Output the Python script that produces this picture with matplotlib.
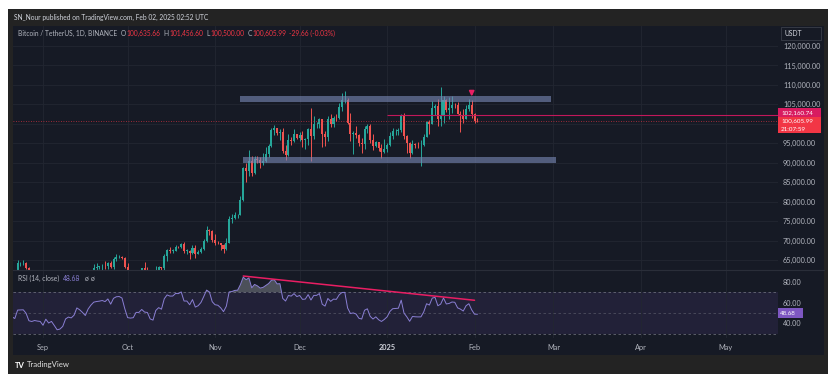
import numpy as np
import pandas as pd
import matplotlib
matplotlib.use('Agg')
import matplotlib.pyplot as plt
import matplotlib.dates as mdates
from matplotlib.patches import Rectangle
from matplotlib.lines import Line2D

plt.rcParams['font.family'] = ['Lato', 'DejaVu Sans']

# ---------------- data ----------------
start_date = '2024-08-01'
first_open = 64620
last_open = 100635.66

closes = [
    # Aug 2024
    65350, 61500, 60700, 58160, 54020, 56040, 55130, 61710, 60880, 60940, 58710, 59350, 60610, 58740, 57560, 58870,
    59490, 58430, 59490, 59010, 61160, 60380, 64100, 64170, 64220, 62830, 59420, 59030, 59370, 59120, 58970,
    # Sep
    57300, 59130, 57480, 57970, 56160, 53960, 54160, 54870, 57050, 57640, 57340, 58130, 60570, 60000, 59180,
    58210, 60310, 61760, 62950, 63200, 63350, 63580, 63340, 64260, 63150, 65180, 65790, 65890, 65600, 63300,
    # Oct
    60800, 60650, 60750, 62080, 62070, 62820, 62220, 62130, 60580, 60270, 62450, 63190, 62850, 66080, 67620, 67380,
    67400, 68380, 68360, 69000, 67370, 67370, 66680, 68160, 66640, 67010, 67930, 69910, 72720, 72340, 70220,
    # Nov
    69480, 69360, 68740, 67810, 69380, 75640, 75900, 76540, 76680, 80400, 88700, 87960, 90520, 87420, 91060,
    90580, 89850, 90460, 92310, 94290, 98350, 98890, 97670, 97900, 93010, 91970, 95860, 95640, 97460, 96410,
    # Dec
    97190, 95840, 96000, 98770, 96950, 99870, 99920, 101110, 97390, 96660, 101170, 100040, 101460, 101370, 104300, 106060,
    106140, 100200, 97460, 97760, 97220, 95100, 94690, 98680, 99430, 95790, 94300, 95280, 93720, 92790, 93580,
    # Jan 2025
    94590, 96890, 98140, 98240, 98350, 102240, 96950, 95040, 92550, 94730, 94560, 94500, 94520, 96530, 100500, 99990,
    104080, 104560, 101330, 102260, 106150, 103650, 103960, 104820, 104710, 102590, 102080, 101330, 103730, 104730, 102430,
    # Feb
    100635.65, 100605.99,
]
highs = [
    65600, 65600, 62200, 61100, 58300, 57000, 57700, 62700, 61750, 61470, 61860, 60700, 61580, 61800, 59850, 59800,
    59690, 60260, 59600, 61400, 61800, 61400, 64950, 64520, 65000, 64480, 63200, 60250, 61180, 59840, 59460,
    59060, 59400, 59820, 58500, 58320, 56990, 54850, 55300, 58100, 58040, 57980, 58600, 60670, 60650, 60390,
    59200, 61340, 61790, 63870, 64130, 63570, 64000, 64800, 64500, 64820, 65840, 66500, 66260, 66080, 65650,
    64130, 62400, 61480, 62480, 62370, 62980, 64480, 63200, 62540, 61320, 63420, 63480, 63300, 66500, 67950, 68420,
    67900, 68970, 68700, 69400, 69520, 67830, 67470, 68850, 68770, 67450, 68250, 70270, 73620, 72960, 72700,
    71600, 69950, 69400, 69000, 70580, 76400, 76950, 77250, 76950, 81500, 89000, 89950, 93260, 91800, 91850,
    91780, 91450, 92600, 94000, 94900, 99000, 99590, 98900, 98750, 98870, 94650, 97380, 96650, 98700, 97500,
    97900, 98150, 96300, 99000, 104090, 101900, 100550, 101400, 101200, 98280, 101900, 102540, 102000, 102650, 105250, 107800,
    108350, 106520, 102800, 98150, 99540, 97360, 96400, 99400, 99960, 99880, 97300, 95520, 95400, 94900, 96150,
    94960, 97800, 98980, 98700, 98800, 102500, 102720, 97250, 95350, 95840, 95000, 95400, 95900, 97370, 100680, 100870,
    105860, 104990, 106300, 109590, 107240, 106330, 106850, 107100, 105280, 105500, 103200, 103750, 104800, 106460, 106000,
    102800, 101456.60,
]
lows = [
    62300, 61200, 59850, 57200, 49000, 53900, 54600, 54750, 59600, 60260, 58300, 57650, 58480, 58430, 56080, 57100,
    58780, 58400, 57820, 58600, 58800, 59800, 60350, 63580, 63800, 62800, 58100, 57850, 58800, 57700, 58750,
    57200, 57120, 57400, 55600, 55650, 52550, 53740, 53650, 54600, 56400, 55550, 57330, 57630, 59450, 58700,
    57500, 57620, 59180, 61600, 62360, 62750, 62350, 62700, 62700, 62950, 62670, 64800, 65420, 65250, 62850,
    60170, 59980, 59830, 60460, 61650, 61800, 62130, 61830, 60300, 58900, 60050, 62450, 62050, 62420, 64800, 66750,
    66700, 67200, 68000, 68100, 66800, 66600, 65260, 66480, 65520, 66450, 66850, 67550, 69730, 71430, 69680,
    68800, 69020, 67460, 66800, 67460, 69330, 74500, 75600, 75800, 76500, 80200, 85100, 86600, 86650, 87100,
    90050, 88720, 89380, 90100, 91500, 94100, 97150, 97200, 95730, 92600, 90800, 91800, 94650, 95400, 96000,
    95700, 94150, 93580, 94660, 90500, 95980, 98950, 98900, 94150, 94250, 95700, 99300, 99200, 100610, 101220, 103300,
    105320, 100000, 95700, 92180, 96400, 94200, 92400, 93400, 97600, 95150, 93250, 94000, 93050, 91300, 92520,
    92750, 94200, 96000, 97230, 97250, 97900, 96100, 92500, 91200, 92200, 93850, 93700, 89260, 94320, 96500, 97280,
    99940, 102280, 99550, 99550, 100120, 103110, 101200, 102750, 104110, 102500, 97780, 100270, 101250, 103300, 101560,
    100160, 100500.00,
]

month_ticks = ['2024-09-01', '2024-10-01', '2024-11-01', '2024-12-01', '2025-01-01',
               '2025-02-01', '2025-03-01', '2025-04-01', '2025-05-01']
month_labels = ['Sep', 'Oct', 'Nov', 'Dec', '2025', 'Feb', 'Mar', 'Apr', 'May']
price_ticks = [65000, 70000, 75000, 80000, 85000, 90000, 95000, 100000, 105000, 110000, 115000, 120000]
hidden_price_labels = [100000]   # covered by the price tags in the reference
rsi_ticks = [40, 60, 80]
rsi_levels = [30, 50, 70]

zone_start = ['2024-11-10', '2024-11-11']
zone_end = ['2025-02-28', '2025-03-02']
zone_low = [105600, 90000]
zone_high = [107150, 91500]

alert_start = '2025-01-01'
alert_price = 102160.74
bar_countdown = '21:07:59'
rsi_last_label = '48.68'

rsi_trend_dates = ['2024-11-11', '2025-02-01']
rsi_trend_values = [85.6, 62.2]

arrow_date = '2025-01-31'
arrow_tip = 106300
arrow_tail = 109000

# ---------------- derived ----------------
opens = [first_open] + closes[:-1]
opens[-1] = last_open
o = np.array(opens, float)
c = np.array(closes, float)
h = np.array(highs, float)
l = np.array(lows, float)
dates = pd.date_range(start_date, periods=len(closes), freq='D')
x = mdates.date2num(dates.to_pydatetime())


def rsi_calc(cl, n=14):
    d = np.diff(cl)
    up = np.clip(d, 0, None)
    dn = np.clip(-d, 0, None)
    au = np.full(len(d), np.nan)
    ad = np.full(len(d), np.nan)
    au[n - 1] = up[:n].mean()
    ad[n - 1] = dn[:n].mean()
    for i in range(n, len(d)):
        au[i] = (au[i - 1] * (n - 1) + up[i]) / n
        ad[i] = (ad[i - 1] * (n - 1) + dn[i]) / n
    r = 100 - 100 / (1 + au / ad)
    out = np.full(len(cl), np.nan)
    out[1:] = r
    return out


rsi = rsi_calc(c)

# ---------------- figure ----------------
W, H = 838, 380
fig = plt.figure(figsize=(W / 100, H / 100), dpi=100, facecolor='white')


def fx(p):
    return p / W


def fy(p):
    return 1 - p / H


BG = '#161a25'
FRAME = '#232323'
TXT = '#b2b5be'
GRID = '#222631'
UP = '#26a69a'
DOWN = '#ef5350'
RED = '#f23645'
PINK = '#e91e63'
PURPLE = '#7e57c2'
RSI_COL = '#8a7fd4'
FS = 4.9
TAG_FS = 4.5

fig.patches.append(Rectangle((fx(8), fy(374)), 820 / W, 365 / H, transform=fig.transFigure,
                             facecolor=FRAME, edgecolor='none', zorder=-10))
fig.patches.append(Rectangle((fx(13), fy(355)), 811 / W, 329 / H, transform=fig.transFigure,
                             facecolor=BG, edgecolor='none', zorder=-9))

ax = fig.add_axes([fx(13), fy(270), 765 / W, 244 / H])
axr = fig.add_axes([fx(13), fy(338), 765 / W, 68 / H], sharex=ax)
for a in (ax, axr):
    a.set_facecolor(BG)
    for s in a.spines.values():
        s.set_visible(False)

sep1 = mdates.date2num(pd.Timestamp('2024-09-01'))
ax.set_xlim(sep1 - 10.64, sep1 + 260.6)
ax.set_ylim(62429, 125141)
axr.set_ylim(25.8, 91.4)

tick_nums = mdates.date2num(pd.to_datetime(month_ticks).to_pydatetime())

# candles
cols = np.where(c >= o, UP, DOWN)
ax.vlines(x, l, h, colors=cols, lw=0.7, zorder=2)
body_lo = np.minimum(o, c)
body_h = np.maximum(np.abs(c - o), 80)
ax.bar(x, body_h, bottom=body_lo, width=0.72, color=cols, linewidth=0, zorder=2)

# zones
for s, e, lo, hi in zip(zone_start, zone_end, zone_low, zone_high):
    xs = mdates.date2num(pd.Timestamp(s))
    xe = mdates.date2num(pd.Timestamp(e))
    ax.add_patch(Rectangle((xs, lo), xe - xs, hi - lo, facecolor='#7887b4', alpha=0.62,
                           edgecolor='none', zorder=3))

# alert ray and last price line
xa = mdates.date2num(pd.Timestamp(alert_start))
ax.hlines(alert_price, xa, ax.get_xlim()[1], color='#c2185b', lw=0.8, zorder=4)
ax.axhline(c[-1], color=RED, lw=0.6, ls=(0, (1, 2)), alpha=0.8, zorder=4)

# arrow marker
xar = mdates.date2num(pd.Timestamp(arrow_date))
ax.annotate('', xy=(xar, arrow_tip), xytext=(xar, arrow_tail),
            arrowprops=dict(arrowstyle='-|>', color=PINK, lw=1.3, mutation_scale=7), zorder=5)

# axes ticks
ax.yaxis.tick_right()
ax.set_yticks(price_ticks)
ax.set_yticklabels(['' if v in hidden_price_labels else f'{v:,.2f}' for v in price_ticks])
ax.tick_params(axis='y', length=0, pad=3.6, labelsize=5.2, labelcolor=TXT)
ax.tick_params(axis='x', length=0, labelbottom=False)
ax.grid(True, color=GRID, lw=0.6, zorder=0)

axr.set_xticks(tick_nums)
axr.set_xticklabels(month_labels)
axr.tick_params(axis='x', length=0, pad=4, labelsize=5.3, labelcolor=TXT)
for lb in axr.get_xticklabels():
    if lb.get_text() == '2025':
        lb.set_fontweight('bold')
        lb.set_color('#d1d4dc')
axr.yaxis.tick_right()
axr.set_yticks(rsi_ticks)
axr.set_yticklabels([f'{v:.2f}' for v in rsi_ticks])
axr.tick_params(axis='y', length=0, pad=3.6, labelsize=5.2, labelcolor=TXT)
axr.grid(True, axis='x', color=GRID, lw=0.6, zorder=0)

# RSI pane
axr.axhspan(rsi_levels[0], rsi_levels[2], color=PURPLE, alpha=0.12, lw=0, zorder=1)
for lv in rsi_levels:
    axr.axhline(lv, color='#787b86', lw=0.6, ls=(0, (3, 3)), alpha=0.8 if lv != 50 else 0.5, zorder=2)
axr.fill_between(x, 70, rsi, where=rsi >= 70, interpolate=True, color='#b2b5be', alpha=0.35, lw=0, zorder=2)
axr.plot(x, rsi, color=RSI_COL, lw=0.7, zorder=3)
tdx = mdates.date2num(pd.to_datetime(rsi_trend_dates).to_pydatetime())
axr.plot(tdx, rsi_trend_values, color=PINK, lw=1.1, zorder=4, solid_capstyle='round')

# separator between panes
fig.add_artist(Line2D([fx(13), fx(824)], [fy(270), fy(270)], color='#2a2e39', lw=0.8))

# ---------------- texts ----------------
fig.text(fx(14), fy(17.5), 'SN_Nour published on TradingView.com, Feb 02, 2025 02:52 UTC',
         fontsize=4.8, color='#d1d4dc', ha='left', va='center')

fig.canvas.draw()
renderer = fig.canvas.get_renderer()


def chain(parts, x0, y, size):
    xp = x0
    for s, col, gap in parts:
        t = fig.text(fx(xp), fy(y), s, fontsize=size, color=col, ha='left', va='center')
        bb = t.get_window_extent(renderer)
        xp += bb.width + gap


chg = c[-1] - c[-2]
pct = chg / c[-2] * 100
chain([('Bitcoin / TetherUS, 1D, BINANCE', TXT, 4),
       ('O', TXT, 0.5), (f'{o[-1]:,.2f}', RED, 3),
       ('H', TXT, 0.5), (f'{h[-1]:,.2f}', RED, 3),
       ('L', TXT, 0.5), (f'{l[-1]:,.2f}', RED, 3),
       ('C', TXT, 0.5), (f'{c[-1]:,.2f}', RED, 3),
       (f'{chg:.2f} ({pct:.2f}%)', RED, 0)], 18, 33.5, 4.75)

chain([('RSI (14, close)', TXT, 4), (rsi_last_label, RSI_COL, 4),
       ('ø', TXT, 3), ('ø', TXT, 0)], 18, 278.5, 4.9)

# USDT box
fig.patches.append(Rectangle((fx(781), fy(40)), 40 / W, 13 / H, transform=fig.transFigure,
                             facecolor='none', edgecolor='#3a3e49', lw=0.6))
fig.text(fx(784), fy(33.8), 'USDT', fontsize=FS, color='#d1d4dc', ha='left', va='center')

# price tags
fig.patches.append(Rectangle((fx(778), fy(116.5)), 43 / W, 8.5 / H, transform=fig.transFigure,
                             facecolor='#d81b60', edgecolor='none'))
fig.patches.append(Rectangle((fx(778), fy(133)), 43 / W, 16.5 / H, transform=fig.transFigure,
                             facecolor=RED, edgecolor='none'))
fig.text(fx(781), fy(112.4), f'{alert_price:,.2f}', fontsize=TAG_FS, color='white', ha='left', va='center')
fig.text(fx(781), fy(120.8), f'{c[-1]:,.2f}', fontsize=TAG_FS, color='white', ha='left', va='center')
fig.text(fx(781), fy(129.0), bar_countdown, fontsize=TAG_FS, color='white', ha='left', va='center')

# RSI tag
fig.patches.append(Rectangle((fx(778), fy(318.3)), 25 / W, 10 / H, transform=fig.transFigure,
                             facecolor=PURPLE, edgecolor='none'))
fig.text(fx(780), fy(313.3), rsi_last_label, fontsize=TAG_FS, color='white', ha='left', va='center')

# footer logo
fig.text(fx(15), fy(365), 'TV', fontsize=5.6, color='white', ha='left', va='center', fontweight='bold')
fig.text(fx(27), fy(365), 'TradingView', fontsize=5.6, color='#e0e0e0', ha='left', va='center')

fig.savefig('out.png', dpi=100, facecolor='white')
